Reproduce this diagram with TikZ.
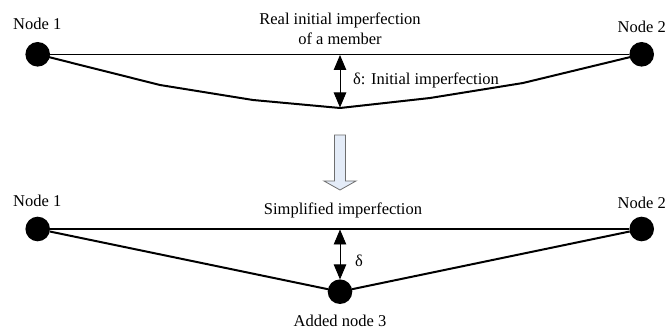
\documentclass[tikz,border=0pt]{standalone}
\usepackage{fontspec}
\setmainfont{Liberation Serif}
\usetikzlibrary{arrows.meta}
\definecolor{arrowfill}{RGB}{228,236,248}
\definecolor{arrowedge}{RGB}{110,110,110}
\tikzset{
  joint/.style={circle,fill=black,draw=none,minimum size=24.6pt,inner sep=0pt,outer sep=0pt},
  lbl/.style={font=\fontsize{16.5}{19}\selectfont,inner sep=0pt,anchor=base},
  member/.style={line width=1.3pt},
  bent/.style={line width=2pt,line join=round},
  dimarrow/.style={line width=0.9pt,{Triangle[length=15pt,width=12.5pt]}-{Triangle[length=15pt,width=12.5pt]}},
}
\begin{document}
\begin{tikzpicture}[x=1pt,y=-1pt]
\useasboundingbox (0,0) rectangle (667,331);
% ---------- top ----------
\node[joint] (n1t) at (37.7,54.3) {};
\node[joint] (n2t) at (641.7,54.3) {};
\node[lbl] (l1t) at (37.2,30) {Node 1};
\node[lbl] (l2t) at (641.7,33) {Node 2};
\node[lbl] (tA) at (340,25) {Real initial imperfection};
\node[lbl] (tB) at (340,45) {of a member};
\draw[member] (n1t) -- (n2t);
\coordinate (c1) at (160,85);
\coordinate (c2) at (253,100);
\coordinate (mid) at (340,108);
\coordinate (c3) at (430,98);
\coordinate (c4) at (523,83);
\draw[bent] (n1t.center) -- (c1) -- (c2) -- (mid) -- (c3) -- (c4) -- (n2t.center);
\coordinate (dt) at (340,55);
\coordinate (db) at (340,107.5);
\draw[dimarrow] (dt) -- (db);
\node[lbl,anchor=base west] (dl) at (353,85) {δ: Initial imperfection};
% ---------- hollow arrow ----------
\draw[fill=arrowfill,draw=arrowedge,line width=0.8pt,line join=miter]
  (334.5,135) -- (345.5,135) -- (345.5,181) -- (356,181) -- (340,190)
  -- (324,181) -- (334.5,181) -- cycle;
% ---------- bottom ----------
\node[joint] (n1b) at (37.7,229) {};
\node[joint] (n2b) at (641.7,229) {};
\node[joint] (n3) at (340,291.7) {};
\node[lbl] (l1b) at (37.2,206.7) {Node 1};
\node[lbl] (l2b) at (641.7,209) {Node 2};
\node[lbl] (tS) at (343,215) {Simplified imperfection};
\node[lbl] (l3) at (340,326.7) {Added node 3};
\draw[member] (n1b) -- (n2b);
\draw[bent] (n1b) -- (n3);
\draw[bent] (n3) -- (n2b);
\coordinate (bt) at (340,229.5);
\draw[dimarrow] (bt) -- (n3.north);
\node[lbl,anchor=base west] (dl2) at (355,266.7) {δ};
\end{tikzpicture}
\end{document}
